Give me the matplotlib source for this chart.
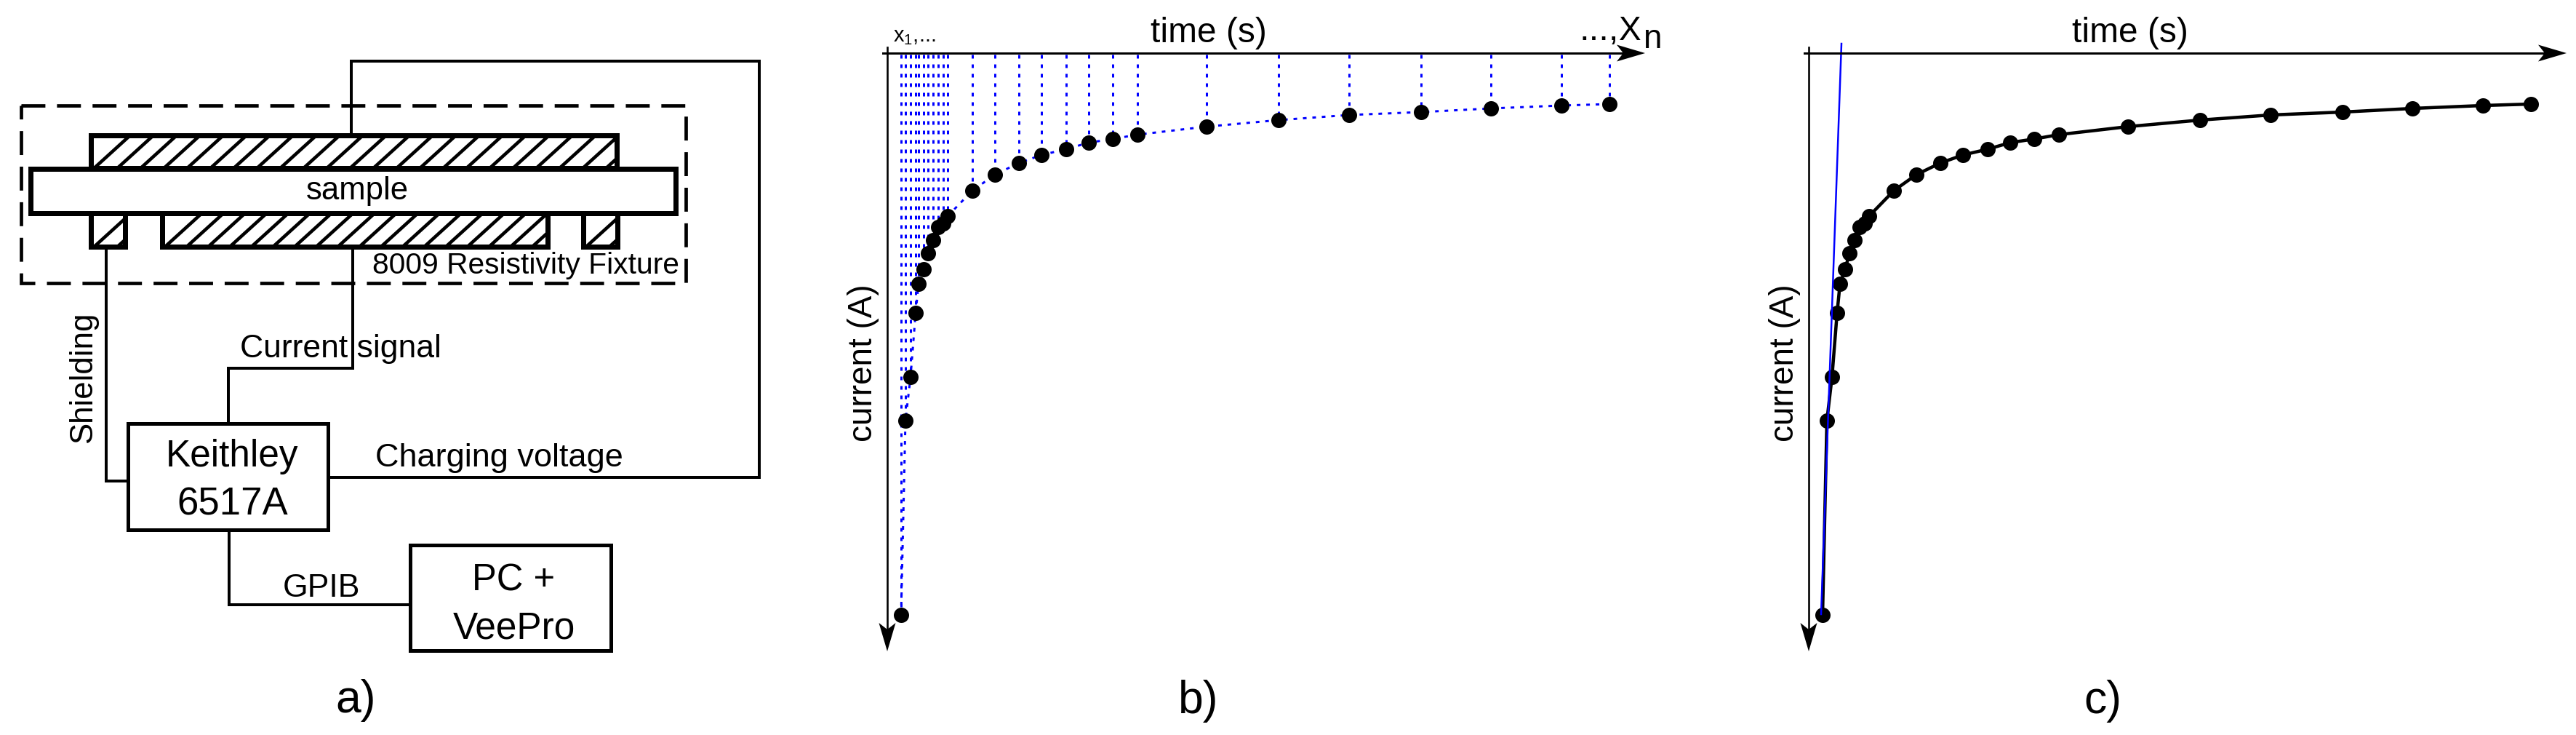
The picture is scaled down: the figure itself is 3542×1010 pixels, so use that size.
# plot.py - measurement setup (a), sampled current curve (b), fitted start of curve (c)

import matplotlib
matplotlib.use("Agg")
import matplotlib.pyplot as plt
import numpy as np
from matplotlib.patches import Polygon, Rectangle

plt.rcParams.update({
    "font.family": ["Liberation Sans", "DejaVu Sans"],
    "mathtext.fontset": "custom",
    "mathtext.rm": "Liberation Sans",
    "mathtext.default": "regular",
})

W, H = 3542, 1010
PX = 72 / 100  # points per pixel at dpi=100

# ===========================================================
# Curve data (arbitrary units, no ticks in the picture)
# ===========================================================
time_s = [19, 25, 32, 39, 43, 50, 56, 63, 70, 77, 83, 117, 148, 181, 212, 246,
          277, 310, 344, 439, 538, 635, 734, 830, 927, 993]
current_a = [772, 505, 445, 357, 317, 297, 275, 257, 239, 234, 224, 189, 167,
             151, 140, 132, 123, 118, 112, 101, 92, 85, 81, 76, 72, 70]
fit_time = [17, 45]
fit_current = [771, -13]

# ===========================================================
# Schematic data: (left, top, right, bottom)
# ===========================================================
fixture_box = (29.5, 144.5, 943, 389)
sample_box = (42, 231.5, 929, 292.5)
instrument_boxes = [(176, 581.5, 451, 728), (564, 749, 840, 894)]
electrodes = [
    (125.5, 185.5, 848, 231, 32),
    (125.5, 292, 172, 339, 32),
    (223, 292, 753, 339, 29.7),
    (802, 292, 849, 339, 32),
]
wires = [
    ([483, 483, 1044, 1044, 451], [185, 84, 84, 656, 656]),
    ([146, 146, 176], [339, 660.5, 660.5]),
    ([485, 485, 314, 314], [339, 506, 506, 581]),
    ([315, 315, 564], [728, 831, 831]),
]
labels = [
    ("sample", 491, 274, 31.5, 0),
    ("8009 Resistivity Fixture", 723, 376, 29.3, 0),
    ("Shielding", 126, 519, 31.5, 90),
    ("Current signal", 468, 491, 32, 0),
    ("Charging voltage", 686, 641, 32.5, 0),
    ("GPIB", 442, 820, 32, 0),
    ("Keithley", 319, 641, 37, 0),
    ("6517A", 320, 707, 38, 0),
    ("PC +", 706, 812, 36.5, 0),
    ("VeePro", 707, 878, 37, 0),
    ("a)", 489, 979, 45, 0),
    ("b)", 1648, 980, 45, 0),
    ("c)", 2891, 980, 45, 0),
]


def add_arrow(ax, tip_x, tip_y, dx, dy):
    # notched arrow head, (dx, dy) is the unit direction of the axis
    pts = [(0, 0), (-39, 11.5), (-30, 0), (-39, -11.5)]
    xy = [(tip_x + a * dx - b * dy, tip_y + a * dy + b * dx) for a, b in pts]
    ax.add_patch(Polygon(xy, closed=True, fc="black", ec="none", clip_on=False, zorder=6))


def curve_axes(left):
    ax = fig.add_axes([left / W, 1 - (73 + 822) / H, 1042 / W, 822 / H])
    ax.set_xlim(0, 1042)
    ax.set_ylim(822, 0)
    ax.axis("off")
    # axes lines start a little before the origin
    ax.plot([-6, 1030], [0, 0], color="black", lw=3 * PX, clip_on=False, zorder=5)
    ax.plot([0, 0], [-8, 800], color="black", lw=2.6 * PX, clip_on=False, zorder=5)
    add_arrow(ax, 1042, 0, 1, 0)
    add_arrow(ax, 0, 822, 0, 1)
    ax.text(442, 58 - 73, "time (s)", fontsize=34.5, ha="center", va="baseline")
    ax.text(-21, 426, "current (A)", fontsize=33, rotation=90, rotation_mode="anchor",
            ha="center", va="baseline")
    return ax


fig = plt.figure(figsize=(W / 100, H / 100), dpi=100, facecolor="white")

# ===========================================================
# a) schematic, in a pixel sized axes over the whole figure
# ===========================================================
bg = fig.add_axes([0, 0, 1, 1])
bg.set_xlim(0, W)
bg.set_ylim(H, 0)
bg.axis("off")

left, top, right, bottom = fixture_box
bg.add_patch(Rectangle((left, top), right - left, bottom - top, fill=False, ec="black",
                       lw=4.7 * PX, ls=(0, (7, 3.4))))

for x, y in wires:
    bg.plot(x, y, color="black", lw=4 * PX, solid_joinstyle="miter", solid_capstyle="butt")

for left, top, right, bottom, step in electrodes:
    box = Rectangle((left, top), right - left, bottom - top, fc="white", ec="black",
                    lw=7 * PX, joinstyle="miter", zorder=3)
    bg.add_patch(box)
    for x0 in np.arange(left + 4, right, step):
        hatch, = bg.plot([x0, x0 + 1.1 * (bottom - top)], [bottom, top], color="black",
                         lw=4.6 * PX, zorder=3)
        hatch.set_clip_path(box)

left, top, right, bottom = sample_box
bg.add_patch(Rectangle((left, top), right - left, bottom - top, fc="white", ec="black",
                       lw=7 * PX, joinstyle="miter", zorder=4))

for left, top, right, bottom in instrument_boxes:
    bg.add_patch(Rectangle((left, top), right - left, bottom - top, fc="white", ec="black",
                           lw=5 * PX, joinstyle="miter", zorder=4))

for text, x, y, size, rot in labels:
    bg.text(x, y, text, fontsize=size, rotation=rot, rotation_mode="anchor",
            ha="center", va="baseline", zorder=5)

# ===========================================================
# b) sampling of the current curve
# ===========================================================
dots = (0, (5 / 3, 8 / 3))
ax_b = curve_axes(1220)
ax_b.vlines(time_s, 2, current_a, colors="blue", lw=3 * PX, linestyles=[dots], zorder=2)
ax_b.plot(time_s, current_a, color="blue", lw=3 * PX, ls=dots, zorder=2)
ax_b.plot(time_s, current_a, ls="none", marker="o", ms=21 * PX, mfc="black", mec="none",
          zorder=3)
ax_b.text(8, 57 - 73, "x$_1$,...", fontsize=21, ha="left", va="baseline")
ax_b.text(2172 - 1220, 55 - 73, "...,", fontsize=35, ha="left", va="baseline")
ax_b.text(2226 - 1220, 55 - 73, "X", fontsize=33, ha="left", va="baseline")
ax_b.text(2259 - 1220, 66 - 73, "n", fontsize=33, ha="left", va="baseline", clip_on=False)

# ===========================================================
# c) fit through the first points
# ===========================================================
ax_c = curve_axes(2487)
ax_c.plot(time_s, current_a, color="black", lw=4.5 * PX, zorder=2)
ax_c.plot(time_s, current_a, ls="none", marker="o", ms=21 * PX, mfc="black", mec="none",
          zorder=3)
ax_c.plot(fit_time, fit_current, color="blue", lw=2.5 * PX, clip_on=False, zorder=4)

fig.savefig("out.png", dpi=100)
